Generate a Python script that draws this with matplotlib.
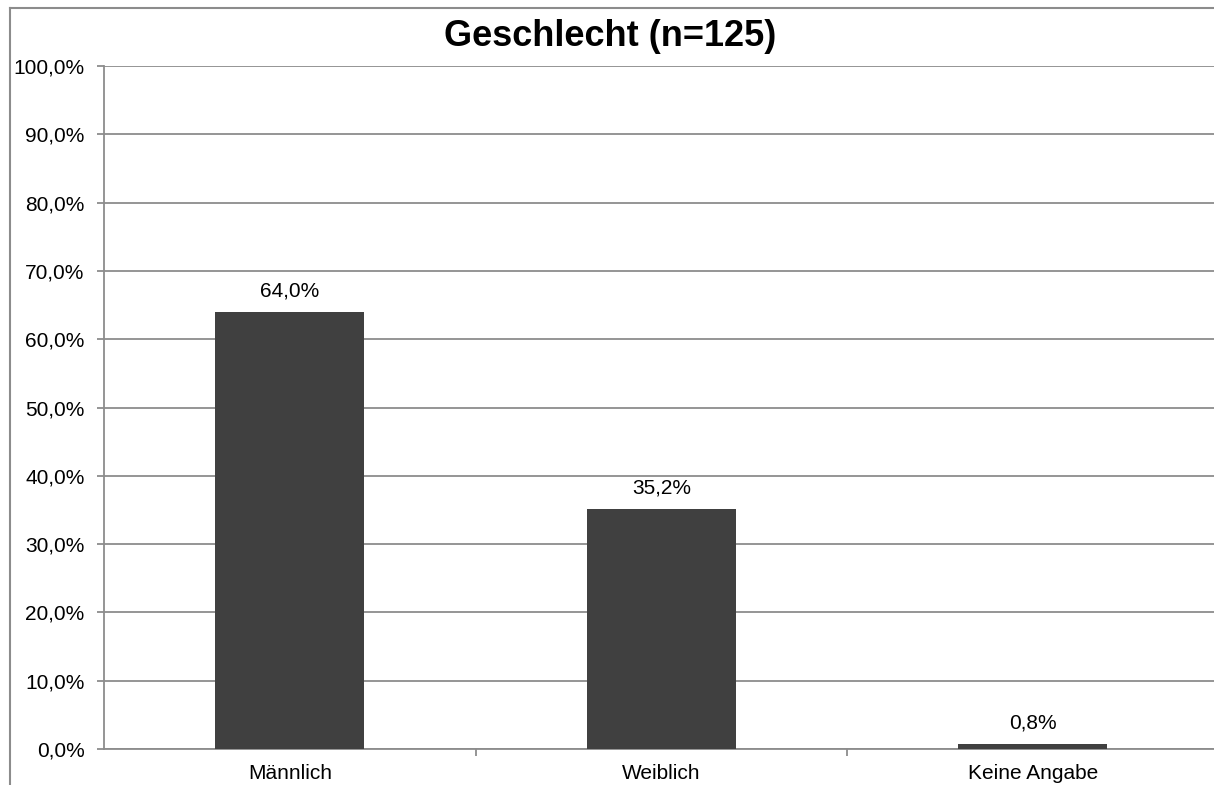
import matplotlib
matplotlib.use("Agg")
import matplotlib.pyplot as plt
from matplotlib.lines import Line2D
from matplotlib.ticker import FuncFormatter, MultipleLocator

categories = ["Männlich", "Weiblich", "Keine Angabe"]
values = [64.0, 35.2, 0.8]
title = "Geschlecht (n=125)"

plt.rcParams['font.family'] = ['Liberation Sans', 'DejaVu Sans']

W, H = 1214, 785
fig = plt.figure(figsize=(W / 100, H / 100), dpi=100)

# outer chart border (top and left visible; continues beyond the image)
border_c = '#8c8c8c'
fig.add_artist(Line2D([9.5 / W, 9.5 / W], [-0.05, 1 - 7.5 / H], transform=fig.transFigure,
                      color=border_c, linewidth=1.5))
fig.add_artist(Line2D([9.5 / W, 1.05], [1 - 7.5 / H, 1 - 7.5 / H], transform=fig.transFigure,
                      color=border_c, linewidth=1.5))

left = 104 / W
right = 1218.5 / W
bottom = 1 - 749 / H
top = 1 - 66 / H
ax = fig.add_axes([left, bottom, right - left, top - bottom])

x = list(range(len(categories)))
grid_c = '#8c8c8c'
ax.bar(x, values, width=0.4, color='#404040', zorder=3)
for xi, v in zip(x, values):
    ax.annotate(f"{v:.1f}%".replace('.', ','), (xi, v), xytext=(0, 8),
                textcoords='offset points', ha='center', va='bottom',
                fontsize=15, color='black')

ax.set_xlim(-0.5, len(categories) - 0.5)
ax.set_ylim(0, 100)
ax.yaxis.set_major_locator(MultipleLocator(10))
ax.yaxis.set_major_formatter(FuncFormatter(lambda v, p: f"{v:.1f}%".replace('.', ',')))
ax.yaxis.grid(True, color=grid_c, linewidth=1.3, zorder=0)
ax.set_xticks(x)
ax.set_xticklabels(categories, fontsize=15)
ax.set_xticks([0.5, 1.5], minor=True)
ax.tick_params(axis='x', which='major', length=0, pad=11)
ax.tick_params(axis='x', which='minor', length=5, color=grid_c, width=1.3)
ax.tick_params(axis='y', length=5, color=grid_c, width=1.3, labelsize=15, pad=9)
for s in ['top', 'right']:
    ax.spines[s].set_visible(False)
ax.spines['left'].set_color(grid_c)
ax.spines['left'].set_linewidth(1.3)
ax.spines['bottom'].set_color(grid_c)
ax.spines['bottom'].set_linewidth(1.3)

fig.text(610 / W, 1 - 37 / H, title, ha='center', va='center',
         fontsize=26, fontweight='bold')

fig.savefig("out.png", dpi=100)
